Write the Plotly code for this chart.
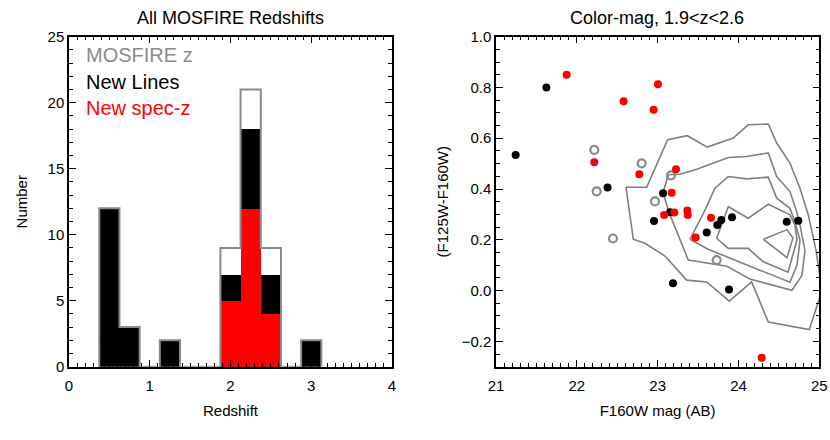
import plotly.graph_objects as go

# ---------------- Left panel: redshift histogram ----------------
bin_centers = [0.5, 0.75, 1.0, 1.25, 1.5, 1.75, 2.0, 2.25, 2.5, 2.75, 3.0]
bin_width = 0.25
n_mosfire = [12, 3, 0, 2, 0, 0, 9, 21, 9, 0, 2]      # all MOSFIRE z (gray outline)
n_newlines = [12, 3, 0, 2, 0, 0, 7, 18, 7, 0, 2]     # New Lines (black)
n_newspecz = [0, 0, 0, 0, 0, 0, 5, 12, 4, 0, 0]      # New spec-z (red)

# ---------------- Right panel: colour-magnitude ----------------
red_mag = [21.874, 23.004, 22.579, 22.950, 22.216, 22.773, 23.227, 23.174, 23.080,
           23.206, 23.367, 23.372, 23.660, 23.470, 24.287]
red_col = [0.850, 0.813, 0.746, 0.712, 0.505, 0.458, 0.478, 0.385, 0.298,
           0.307, 0.315, 0.298, 0.287, 0.209, -0.265]
black_mag = [21.623, 21.243, 22.380, 23.067, 23.153, 22.955, 23.607, 23.738,
             23.788, 23.920, 24.597, 24.740, 23.190, 23.883]
black_col = [0.800, 0.534, 0.406, 0.383, 0.308, 0.274, 0.229, 0.258,
             0.278, 0.289, 0.271, 0.275, 0.029, 0.004]
gray_mag = [22.216, 22.245, 22.802, 23.165, 22.967, 22.447, 23.730]
gray_col = [0.554, 0.391, 0.501, 0.454, 0.351, 0.205, 0.120]

# density contours (traced polylines, mag / colour)
c1_mag = [22.608, 22.864, 23.124, 23.367, 23.614, 23.936, 24.121, 24.369, 24.473, 24.637,
          24.761, 24.864, 24.959, 25.033, 24.876, 24.369, 24.163, 23.886, 23.607, 23.359,
          23.091, 22.843, 22.699, 22.608]
c1_col = [0.407, 0.407, 0.594, 0.610, 0.565, 0.601, 0.653, 0.656, 0.581, 0.502,
          0.403, 0.298, 0.159, 0.001, -0.154, -0.124, 0.034, -0.042, 0.034, 0.041,
          0.136, 0.186, 0.202, 0.407]
c2_mag = [23.132, 23.276, 23.483, 23.874, 24.102, 24.369, 24.473, 24.637, 24.720, 24.761,
          24.823, 24.786, 24.662, 24.142, 23.858, 23.685, 23.379, 23.153, 23.066, 23.132]
c2_col = [0.456, 0.458, 0.478, 0.524, 0.528, 0.542, 0.449, 0.390, 0.311, 0.258,
          0.159, 0.060, 0.001, 0.045, 0.096, 0.104, 0.120, 0.298, 0.385, 0.456]
c3_mag = [23.400, 23.487, 23.586, 23.709, 23.874, 24.102, 24.369, 24.473, 24.637, 24.699,
          24.761, 24.724, 24.637, 24.142, 23.870, 23.623, 23.400]
c3_col = [0.202, 0.258, 0.317, 0.403, 0.449, 0.440, 0.447, 0.364, 0.324, 0.270,
          0.199, 0.100, 0.033, 0.096, 0.132, 0.163, 0.202]
c4_mag = [23.730, 23.874, 24.121, 24.369, 24.637, 24.699, 24.724, 24.613, 24.307, 24.121,
          23.874, 23.730]
c4_col = [0.206, 0.330, 0.285, 0.340, 0.298, 0.258, 0.199, 0.072, 0.113, 0.166,
          0.166, 0.206]
c5_mag = [24.309, 24.600, 24.674, 24.600, 24.309]
c5_col = [0.202, 0.240, 0.207, 0.130, 0.202]

FONT = "Liberation Sans, Arial, Helvetica, sans-serif"
GRAY = "#8a8a8a"

fig = go.Figure()

# histogram bars (filled)
fig.add_trace(go.Bar(x=bin_centers, y=n_newlines, width=bin_width, marker=dict(color="black", line=dict(width=0)),
                     xaxis="x", yaxis="y", showlegend=False))
fig.add_trace(go.Bar(x=bin_centers, y=n_newspecz, width=bin_width, marker=dict(color="#ff0000", line=dict(width=0)),
                     xaxis="x", yaxis="y", showlegend=False))
# gray step outline of the full MOSFIRE sample
step_x = [c - bin_width / 2 for c in bin_centers] + [bin_centers[-1] + bin_width / 2]
step_y = list(n_mosfire) + [0]
step_x = [step_x[0]] + step_x
step_y = [0] + step_y
fig.add_trace(go.Scatter(x=step_x, y=step_y, mode="lines", line=dict(color=GRAY, width=2, shape="hv"),
                         xaxis="x", yaxis="y", showlegend=False, hoverinfo="skip"))

# contours
for cx, cy in [(c1_mag, c1_col), (c2_mag, c2_col), (c3_mag, c3_col), (c4_mag, c4_col), (c5_mag, c5_col)]:
    fig.add_trace(go.Scatter(x=cx, y=cy, mode="lines", line=dict(color="#7f7f7f", width=1.6),
                             xaxis="x2", yaxis="y2", showlegend=False, hoverinfo="skip"))

fig.add_trace(go.Scatter(x=gray_mag, y=gray_col, mode="markers",
                         marker=dict(symbol="circle-open", size=8, color=GRAY, line=dict(width=2.2, color=GRAY)),
                         xaxis="x2", yaxis="y2", showlegend=False))
fig.add_trace(go.Scatter(x=black_mag, y=black_col, mode="markers",
                         marker=dict(symbol="circle", size=8, color="black"),
                         xaxis="x2", yaxis="y2", showlegend=False))
fig.add_trace(go.Scatter(x=red_mag, y=red_col, mode="markers",
                         marker=dict(symbol="circle", size=8, color="#ff0000"),
                         xaxis="x2", yaxis="y2", showlegend=False))

axis_common = dict(showline=True, linecolor="black", linewidth=1.5, mirror="ticks", ticks="inside",
                   tickcolor="black", tickwidth=1.2, showgrid=False, zeroline=False, automargin=False,
                   tickfont=dict(family=FONT, size=15, color="black"))

YDOM = [(440 - 366.7) / 440, (440 - 36.7) / 440]

fig.update_layout(
    width=830, height=440,
    margin=dict(l=0, r=0, t=0, b=0),
    paper_bgcolor="white", plot_bgcolor="white",
    barmode="overlay", bargap=0,
    font=dict(family=FONT, color="black"),
    xaxis=dict(domain=[69 / 830, 392 / 830], range=[0, 4], tickvals=[0, 1, 2, 3, 4], ticklen=7,
               ticklabelstandoff=5,
               minor=dict(dtick=0.1, ticks="inside", ticklen=4, tickcolor="black", showgrid=False),
               title=dict(text="Redshift", font=dict(family=FONT, size=15), standoff=12),
               anchor="y", **axis_common),
    yaxis=dict(domain=YDOM, range=[0, 25], tickvals=[0, 5, 10, 15, 20, 25],
               ticklen=7,
               minor=dict(dtick=1, ticks="inside", ticklen=4, tickcolor="black", showgrid=False),
               title=dict(text="Number", font=dict(family=FONT, size=15), standoff=16),
               anchor="x", **axis_common),
    xaxis2=dict(domain=[496 / 830, 819.3 / 830], range=[21, 25], tickvals=[21, 22, 23, 24, 25], ticklen=7,
                ticklabelstandoff=5,
                minor=dict(dtick=0.1, ticks="inside", ticklen=4, tickcolor="black", showgrid=False),
                title=dict(text="F160W mag (AB)", font=dict(family=FONT, size=15), standoff=12),
                anchor="y2", **axis_common),
    yaxis2=dict(domain=YDOM, range=[-0.3, 1.0],
                tickvals=[-0.2, 0.0, 0.2, 0.4, 0.6, 0.8, 1.0], tickformat=".1f", ticklen=7,
                minor=dict(dtick=0.05, tick0=0, ticks="inside", ticklen=4, tickcolor="black", showgrid=False),
                title=dict(text="(F125W-F160W)", font=dict(family=FONT, size=15), standoff=9),
                anchor="x2", **axis_common),
    annotations=[
        dict(text="All MOSFIRE Redshifts", x=230 / 830, y=(440 - 18) / 440, xref="paper", yref="paper",
             showarrow=False, font=dict(family=FONT, size=18, color="black"), xanchor="center", yanchor="middle"),
        dict(text="Color-mag, 1.9<z<2.6", x=657 / 830, y=(440 - 18) / 440, xref="paper", yref="paper",
             showarrow=False, font=dict(family=FONT, size=18, color="black"), xanchor="center", yanchor="middle"),
        dict(text="MOSFIRE z", x=84 / 830, y=(440 - 55) / 440, xref="paper", yref="paper", showarrow=False,
             font=dict(family=FONT, size=20, color=GRAY), xanchor="left", yanchor="middle"),
        dict(text="New Lines", x=84 / 830, y=(440 - 82) / 440, xref="paper", yref="paper", showarrow=False,
             font=dict(family=FONT, size=20, color="black"), xanchor="left", yanchor="middle"),
        dict(text="New spec-z", x=84 / 830, y=(440 - 108) / 440, xref="paper", yref="paper", showarrow=False,
             font=dict(family=FONT, size=20, color="#ff0000"), xanchor="left", yanchor="middle"),
    ],
)

fig.write_html("out.html", config={"displayModeBar": False},
               post_script="document.body.style.margin='0';document.body.style.overflow='hidden';")
